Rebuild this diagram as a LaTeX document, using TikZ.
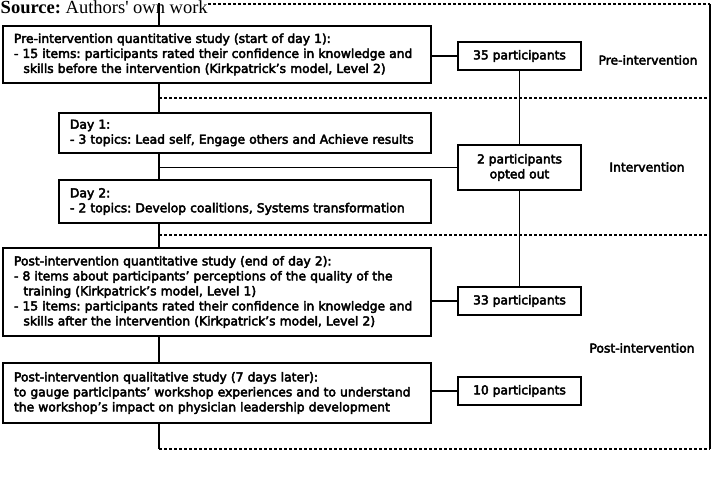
\documentclass[tikz,border=0pt]{standalone}
\usepackage{fontspec}
\setmainfont{Liberation Serif}
\newfontfamily\diafont{DejaVu Sans}[FakeBold=3.5]
\newcommand{\dfont}{\diafont\fontsize{12.3}{15}\selectfont}
\newcommand{\ind}{\hspace*{9.5pt}}
\frenchspacing
\begin{document}
\begin{tikzpicture}[x=1pt,y=-1pt,line width=1.5pt,
  box/.style={draw,fill=white,rectangle,inner xsep=11pt,inner ysep=0pt,align=left,font=\dfont},
  pbox/.style={draw,fill=white,rectangle,minimum width=123pt,inner sep=0pt,align=center,font=\dfont},
  lab/.style={font=\dfont,inner sep=0pt},
  sepline/.style={dash pattern=on 3pt off 2pt,line width=1.3pt}]
\useasboundingbox (0,0) rectangle (717,495);
% frame coordinates
\coordinate (top) at (159,3);
\coordinate (bot) at (159,449);
\coordinate (tr) at (710,4);
\coordinate (br) at (710,449);
\coordinate (ts) at (208,4);
\coordinate (d1) at (159,98);
\coordinate (d2) at (159,235);
% left boxes
\node[box,text width=406pt,minimum height=57pt] (p1) at (217,54.5)
 {Pre-intervention quantitative study (start of day 1):\\- 15 items: participants rated their confidence in knowledge and\\\ind skills before the intervention (Kirkpatrick’s model, Level 2)};
\node[box,text width=350pt,minimum height=40pt] (day1) at (245,133)
 {Day 1:\\- 3 topics: Lead self, Engage others and Achieve results};
\node[box,text width=350pt,minimum height=43pt] (day2) at (245,201.5)
 {Day 2:\\- 2 topics: Develop coalitions, Systems transformation};
\node[box,text width=406pt,minimum height=88pt] (post) at (217,292)
 {Post-intervention quantitative study (end of day 2):\\- 8 items about participants’ perceptions of the quality of the\\\ind training (Kirkpatrick’s model, Level 1)\\- 15 items: participants rated their confidence in knowledge and\\\ind skills after the intervention (Kirkpatrick’s model, Level 2)};
\node[box,text width=406pt,minimum height=60pt] (qual) at (217,393)
 {Post-intervention qualitative study (7 days later):\\to gauge participants’ workshop experiences and to understand\\the workshop’s impact on physician leadership development};
% right boxes
\node[pbox,minimum height=28pt] (n35) at (519.5,56) {35 participants};
\node[pbox,minimum height=45pt] (n2) at (519.5,167.5) {2 participants\\opted out};
\node[pbox,minimum height=28pt] (n33) at (519.5,301) {33 participants};
\node[pbox,minimum height=28pt] (n10) at (519.5,391) {10 participants};
% phase labels
\node[lab] (lpre) at (648,60) {Pre-intervention};
\node[lab] (lint) at (647,167) {Intervention};
\node[lab] (lpost) at (642,348) {Post-intervention};
% source
\node[anchor=base west,inner sep=0pt,font=\fontsize{18.5}{20}\selectfont] (src) at (0,14) {\textbf{Source:} Authors\textquotesingle{} own work};
% separators
\draw[sepline] (ts) -- (tr);
\draw[sepline] (d1) -- (d1 -| tr);
\draw[sepline] (d2) -- (d2 -| tr);
\draw[sepline] (bot) -- (br);
\draw[line join=round] (tr) -- (br);
% main spine
\draw (top) -- (p1.north -| top);
\draw (p1.south -| top) -- (day1.north -| top);
\draw (day1.south -| top) -- (day2.north -| top);
\draw (day2.south -| top) -- (post.north -| top);
\draw (post.south -| top) -- (qual.north -| top);
\draw (qual.south -| top) -- (bot);
\draw (n2.west -| top) -- (n2.west);
% right connectors
\draw (n35.west -| p1.east) -- (n35.west);
\draw (n35.south) -- (n2.north);
\draw (n2.south) -- (n33.north);
\draw (n33.west -| post.east) -- (n33.west);
\draw (n10.west -| qual.east) -- (n10.west);
\end{tikzpicture}
\end{document}
